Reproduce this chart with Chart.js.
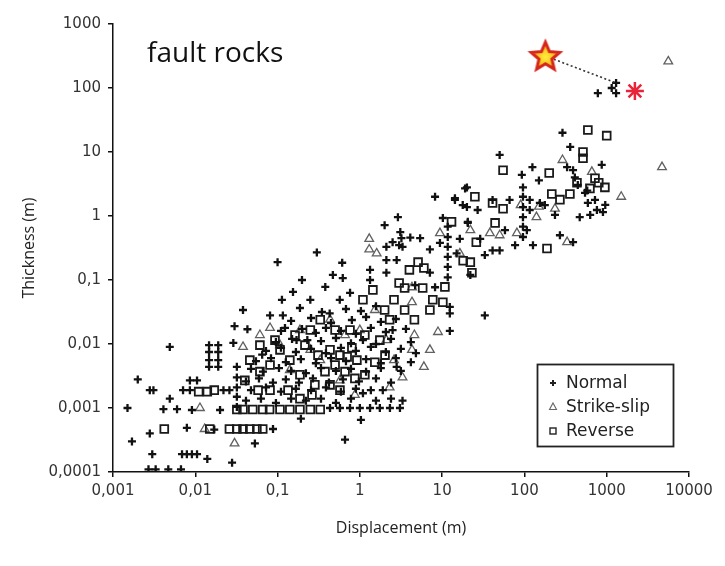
<!DOCTYPE html>
<html>
<head>
<meta charset="utf-8">
<script src="https://cdn.jsdelivr.net/npm/chart.js@4.4.0/dist/chart.umd.min.js"></script>
<style>
html,body{margin:0;padding:0;background:#fff;}
#wrap{width:725px;height:566px;position:relative;}
</style>
</head>
<body>
<div id="wrap"><canvas id="c" width="725" height="566"></canvas></div>
<script>
// ---- tick values / labels ----
const xTickValues = [0.001, 0.01, 0.1, 1, 10, 100, 1000, 10000];
const xTickLabels = ['0,001', '0,01', '0,1', '1', '10', '100', '1000', '10000'];
const yTickValues = [0.0001, 0.001, 0.01, 0.1, 1, 10, 100, 1000];
const yTickLabels = ['0,0001', '0,001', '0,01', '0,1', '1', '10', '100', '1000'];

const chartLabel = 'fault rocks';
const xTitle = 'Displacement (m)';
const yTitle = 'Thickness (m)';
const legendNames = ['Normal', 'Strike-slip', 'Reverse'];

// ---- Normal faults: [displacement, thickness] ----
const normalPts = [
 [0.0017,0.0003],[0.0015,0.001],[0.002,0.0028],[0.0028,0.0019],[0.0031,0.0019],[0.0028,0.0004],[0.003,0.00019],
 [0.0027,0.00011],[0.0033,0.00011],[0.0047,0.00011],[0.0067,0.00011],[0.0041,0.00096],[0.006,0.00096],[0.0049,0.0014],
 [0.0049,0.009],[0.0069,0.00019],[0.0079,0.00019],[0.0091,0.00019],[0.0105,0.00019],[0.014,0.00016],[0.028,0.00014],
 [0.0079,0.00049],[0.0086,0.0027],[0.0105,0.0027],[0.0071,0.0019],[0.0086,0.0019],[0.022,0.0019],[0.026,0.0019],
 [0.0147,0.0096],[0.0147,0.0075],[0.0147,0.0056],[0.0147,0.0044],[0.019,0.0096],[0.019,0.0075],[0.019,0.0056],[0.019,0.0044],
 [0.0091,0.00093],[0.02,0.00093],[0.017,0.00046],[0.088,0.00047],[0.053,0.00028],[0.029,0.0104],[0.03,0.019],[0.038,0.034],
 [0.043,0.017],[0.081,0.028],[0.116,0.028],[0.123,0.0178],[0.065,0.0068],[0.032,0.0044],[0.032,0.003],[0.032,0.0021],
 [0.032,0.0015],[0.032,0.00104],
 [0.1,0.19],[0.113,0.049],[0.198,0.1],[0.154,0.065],[0.25,0.049],[0.3,0.27],[0.61,0.186],[0.17,0.0115],[0.23,0.0115],
 [0.43,0.03],[0.57,0.049],[0.76,0.063],[1.33,0.1],[2.1,0.13],[2.8,0.205],[3.3,0.33],[2.1,0.33],[2.5,0.0165],[2.8,0.0044],
 [1.9,0.0019],[1.09,0.0017],[3.3,0.0013],[0.66,0.00032],[0.38,0.078],[12.4,0.016],
 [2.9,0.96],[2.0,0.72],[3.1,0.56],[2.5,0.39],[3.2,0.45],[4.1,0.46],[5.4,0.45],[0.47,0.12],[0.62,0.107],[1.33,0.144],
 [2.1,0.205],[4.7,0.083],[8.2,0.077],[12.4,0.038],[8.2,2.0],[10.2,0.93],[11.7,0.68],[11.7,0.47],[11.7,0.33],[11.7,0.23],
 [11.7,0.16],[11.7,0.11],[20,2.8],[20,1.38],[20.5,0.81],[14.3,1.78],[41,0.29],[50,0.29],[15,0.26],[33,0.028],[12.4,0.03],
 [7.1,0.13],[3.0,0.35],[7.1,0.3],[9.4,0.38],
 [780,83],[1300,120],[1300,83],[1150,100],[290,20],[360,12],[870,6.3],[330,5.8],[390,5.2],[410,4],[580,2.5],[590,1.6],
 [900,1.15],[470,0.96],[150,3.6],[125,5.8],[93,4.4],[96,2.8],[96,2.0],[96,1.38],[96,0.96],[96,0.68],[96,0.47],[116,1.78],
 [116,1.24],[50,9.0],[19,2.7],[14.3,1.9],[17.8,1.48],[41,1.78],[66,1.78],[20.5,0.78],[107,0.6],[127,0.35],[390,0.39],
 [545,2.3],[760,1.24],[445,3.05],[154,1.6],[630,1.04],[960,1.49],[720,1.78],[270,0.5],[235,1.04],[177,1.48],[58,0.6],
 [77,0.35],[29,0.44],[33,0.245],[27,1.24],[16.4,0.44],[22,0.12],
 [0.187,0.0365],[0.346,0.0316],[0.678,0.0352],[1.03,0.0328],[1.57,0.039],
 [0.146,0.0229],[0.255,0.0255],[0.446,0.0213],[0.8,0.0237],[1.19,0.0264],[1.8,0.0221],[2.74,0.0246],
 [0.11,0.016],[0.198,0.0172],[0.292,0.0149],[0.387,0.0178],[0.589,0.016],[0.895,0.0144],[1.36,0.0178],[2.07,0.0154],[3.63,0.0172],
 [0.0955,0.0107],[0.15,0.012],[0.337,0.0111],[0.512,0.0124],[0.78,0.0103],[1.09,0.0115],[1.57,0.01],[2.39,0.012],[4.17,0.0107],
 [0.0723,0.0078],[0.11,0.0087],[0.167,0.0075],[0.255,0.0084],[0.387,0.0072],[0.589,0.0087],[0.895,0.0078],[1.36,0.009],
 [2.07,0.0075],[3.15,0.0084],[4.8,0.0072],
 [0.0546,0.0054],[0.0832,0.006],[0.126,0.0052],[0.192,0.0058],[0.292,0.005],[0.446,0.006],[0.678,0.0054],[1.19,0.0058],
 [1.8,0.005],[2.74,0.006],[4.17,0.0052],
 [0.0475,0.0041],[0.0664,0.0037],[0.104,0.0042],[0.146,0.0038],[0.221,0.0035],[0.337,0.0042],[0.512,0.0038],[0.78,0.0041],
 [1.19,0.0037],[1.8,0.0042],[3.15,0.0038],
 [0.0413,0.0026],[0.0594,0.0029],[0.0879,0.0025],[0.126,0.0028],[0.182,0.0025],[0.269,0.0029],[0.421,0.0025],[0.623,0.0028],
 [0.975,0.0026],[1.57,0.0029],[2.39,0.0025],
 [0.0475,0.0019],[0.0723,0.0021],[0.11,0.0018],[0.167,0.002],[0.255,0.0019],[0.387,0.0021],[0.589,0.0018],[0.895,0.002],[1.36,0.0019],
 [0.0413,0.0013],[0.0628,0.0014],[0.0955,0.0012],[0.146,0.0014],[0.221,0.0013],[0.337,0.0014],[0.512,0.0012],[0.78,0.0014],
 [1.57,0.0013],[2.39,0.0014],
 [0.434,0.001],[0.573,0.001],[0.759,0.001],[1.0,0.001],[1.33,0.001],[1.75,0.001],[2.32,0.001],[3.07,0.001],
 [0.192,0.00068],[1.03,0.00065]
];

// ---- Strike-slip faults ----
const strikePts = [
 [5600,260],[4700,5.8],[1500,2.0],[660,4.9],[290,7.5],[150,1.4],[81,0.54],[140,0.96],[330,0.39],[38,0.54],[4.3,0.045],
 [1.3,0.44],[1.3,0.3],[1.6,0.26],[2.1,0.0115],[2.3,0.0021],[0.081,0.0178],[0.038,0.009],[0.03,0.00028],[0.0114,0.001],
 [8.9,0.0154],[4.3,0.0081],[7.1,0.0081],[6.0,0.0044],[3.3,0.003],[4.3,0.077],[9.4,0.54],[0.187,0.0165],[0.434,0.024],
 [0.66,0.0138],[0.25,0.0081],[1.0,0.0165],[1.52,0.034],[0.141,0.0039],[0.573,0.0027],[0.33,0.0056],[0.87,0.0016],
 [0.107,0.0096],[0.061,0.0138],[2.6,0.0056],[4.6,0.0138],[235,1.3],[90,1.48],[50,0.5],[22,0.6],[16.4,0.26],[0.013,0.00047]
];

// ---- Reverse faults ----
const reversePts = [
 [0.33,0.024],[1.09,0.049],[1.44,0.07],[3.0,0.09],[3.5,0.075],[5.8,0.075],[10.8,0.078],[7.7,0.049],[10.2,0.045],
 [0.215,0.0096],[0.31,0.0067],[0.434,0.0081],[0.573,0.0067],[0.70,0.0063],[0.92,0.0056],[0.80,0.0087],[0.50,0.0047],
 [0.66,0.0037],[0.87,0.0029],[0.377,0.0037],[0.284,0.0023],[0.187,0.0033],[0.141,0.0056],[0.107,0.0081],[0.081,0.0047],
 [0.061,0.0037],[0.134,0.0019],[0.187,0.0014],[0.262,0.0016],[0.434,0.0023],[0.573,0.0019],[1.15,0.0033],[1.52,0.0052],
 [2.02,0.0067],[1.75,0.0115],[1.15,0.0138],[0.759,0.0165],[0.50,0.0165],[0.25,0.0165],[0.163,0.0138],[0.093,0.0115],
 [0.061,0.0096],[0.046,0.0056],[0.040,0.0027],[0.058,0.0019],[0.081,0.0019],
 [0.032,0.00095],[0.038,0.00095],[0.05,0.00095],[0.066,0.00095],[0.08,0.00095],[0.107,0.00095],[0.141,0.00095],
 [0.187,0.00095],[0.25,0.00095],[0.33,0.00095],
 [0.0042,0.00047],[0.015,0.00047],[0.026,0.00047],[0.032,0.00047],[0.038,0.00047],[0.046,0.00047],[0.056,0.00047],[0.066,0.00047],
 [0.011,0.0018],[0.014,0.0018],[0.017,0.0019],
 [13,0.81],[25,2.0],[55,1.3],[44,0.78],[26,0.39],[18,0.2],[22,0.19],[23,0.13],[55,5.2],[590,22],[1000,18],[515,10],[515,8],
 [435,3.3],[200,4.7],[215,2.2],[188,0.31],[41,1.6],[625,2.7],[800,3.3],[950,2.8],[270,1.8],[357,2.2],[720,3.9],
 [5.1,0.19],[6,0.154],[4,0.144],[2.6,0.049],[3.5,0.034],[4.6,0.024],[7.1,0.034],[2.0,0.034],[2.3,0.024]
];

// ---- highlighted points ----
const starPt = [[180, 316]];
const asteriskPt = [[2200, 90]];
const linkPts = [[180, 316], [1300, 120]];

const toXY = arr => arr.map(p => ({x: p[0], y: p[1]}));

// star marker image
function makeStar() {
  const c = document.createElement('canvas');
  c.width = 38; c.height = 38;
  const g = c.getContext('2d');
  const cx = 19, cy = 20, R = 15, r = 6.8;
  g.beginPath();
  for (let i = 0; i < 10; i++) {
    const a = -Math.PI / 2 + i * Math.PI / 5;
    const rr = i % 2 === 0 ? R : r;
    const px = cx + rr * Math.cos(a), py = cy + rr * Math.sin(a);
    i === 0 ? g.moveTo(px, py) : g.lineTo(px, py);
  }
  g.closePath();
  const grd = g.createRadialGradient(cx, cy, 1, cx, cy, R);
  grd.addColorStop(0, '#ffe93a');
  grd.addColorStop(0.55, '#f8c21e');
  grd.addColorStop(1, '#ee8a16');
  g.fillStyle = grd;
  g.fill();
  g.lineWidth = 3;
  g.lineJoin = 'miter';
  g.strokeStyle = '#d6261d';
  g.stroke();
  return c;
}

const extras = {
  id: 'extras',
  afterDatasetsDraw(chart) {
    const ctx = chart.ctx;
    ctx.save();
    // chart label
    ctx.fillStyle = '#111';
    ctx.font = '28px "Open Sans", "DejaVu Sans", sans-serif';
    ctx.textBaseline = 'alphabetic';
    ctx.textAlign = 'left';
    ctx.fillText(chartLabel, 147, 62);
    // legend box
    const bx = 537, by = 364, bw = 136, bh = 82;
    ctx.fillStyle = '#fff';
    ctx.fillRect(bx, by, bw, bh);
    ctx.strokeStyle = '#222';
    ctx.lineWidth = 1.8;
    ctx.strokeRect(bx + 0.5, by + 0.5, bw, bh);
    const rows = [383, 407, 431];
    const mx = 553;
    // Normal marker
    ctx.strokeStyle = '#222'; ctx.lineWidth = 2;
    ctx.beginPath();
    ctx.moveTo(mx - 3, rows[0]); ctx.lineTo(mx + 3, rows[0]);
    ctx.moveTo(mx, rows[0] - 3); ctx.lineTo(mx, rows[0] + 3);
    ctx.stroke();
    // Strike-slip marker
    ctx.strokeStyle = '#666'; ctx.lineWidth = 1.1;
    ctx.beginPath();
    ctx.moveTo(mx, rows[1] - 4); ctx.lineTo(mx + 3.5, rows[1] + 2.5); ctx.lineTo(mx - 3.5, rows[1] + 2.5); ctx.closePath();
    ctx.stroke();
    // Reverse marker
    ctx.strokeStyle = '#222'; ctx.lineWidth = 1.4;
    ctx.strokeRect(mx - 3, rows[2] - 3, 6, 6);
    // texts
    ctx.fillStyle = '#222';
    ctx.font = '17px "DejaVu Sans", sans-serif';
    ctx.textBaseline = 'middle';
    legendNames.forEach((t, i) => ctx.fillText(t, 566, rows[i] + 1));
    ctx.restore();
  }
};

const axisFont = {family: '"DejaVu Sans", sans-serif', size: 15};
const titleFont = {family: '"Open Sans", "DejaVu Sans", sans-serif', size: 16};

new Chart(document.getElementById('c'), {
  type: 'scatter',
  data: {
    datasets: [
      {label: 'star', data: toXY(starPt), pointStyle: makeStar(), pointRadius: 15},
      {label: 'asterisk', data: toXY(asteriskPt), pointStyle: 'star', pointRadius: 9,
       borderColor: '#e8243a', borderWidth: 2.5, backgroundColor: '#e8243a'},
      {label: 'link', data: toXY(linkPts), showLine: true, pointRadius: 0,
       borderColor: '#333', borderWidth: 1.6, borderDash: [2, 2.5], fill: false},
      {label: legendNames[0], data: toXY(normalPts), pointStyle: 'cross', pointRadius: 4,
       borderColor: '#111', borderWidth: 2.3, backgroundColor: '#111'},
      {label: legendNames[2], data: toXY(reversePts), pointStyle: 'rect', pointRadius: 5.5,
       borderColor: '#1a1a1a', borderWidth: 1.8, backgroundColor: 'rgba(255,255,255,0)'},
      {label: legendNames[1], data: toXY(strikePts), pointStyle: 'triangle', pointRadius: 5,
       borderColor: '#606060', borderWidth: 1.3, backgroundColor: 'rgba(255,255,255,0)'}
    ]
  },
  options: {
    responsive: false,
    animation: false,
    devicePixelRatio: 1,
    events: [],
    layout: {padding: {top: 24, right: 36, left: 0, bottom: 0}},
    plugins: {legend: {display: false}, tooltip: {enabled: false}},
    scales: {
      x: {
        type: 'logarithmic', min: 0.001, max: 10000, position: 'bottom',
        afterBuildTicks: s => { s.ticks = xTickValues.map(v => ({value: v})); },
        afterFit: s => { s.height = 94; },
        ticks: {autoSkip: false, maxRotation: 0, padding: 5, color: '#333', font: axisFont,
                callback: (v, i) => xTickLabels[i]},
        grid: {drawOnChartArea: false, drawTicks: true, tickLength: 5, color: '#111', lineWidth: 1.5},
        border: {display: true, color: '#111', width: 1.5},
        title: {display: true, text: xTitle, color: '#222', font: titleFont, padding: {top: 0, bottom: 28}}
      },
      y: {
        type: 'logarithmic', min: 0.0001, max: 1000, position: 'left',
        afterBuildTicks: s => { s.ticks = yTickValues.map(v => ({value: v})); },
        afterFit: s => { s.width = 113; },
        ticks: {autoSkip: false, padding: 7, color: '#333', font: axisFont,
                callback: (v, i) => yTickLabels[i]},
        grid: {drawOnChartArea: false, drawTicks: true, tickLength: 5, color: '#111', lineWidth: 1.5},
        border: {display: true, color: '#111', width: 1.5},
        title: {display: true, text: yTitle, color: '#222', font: titleFont, padding: {top: 20, bottom: 0}}
      }
    }
  },
  plugins: [extras]
});
</script>
</body>
</html>
